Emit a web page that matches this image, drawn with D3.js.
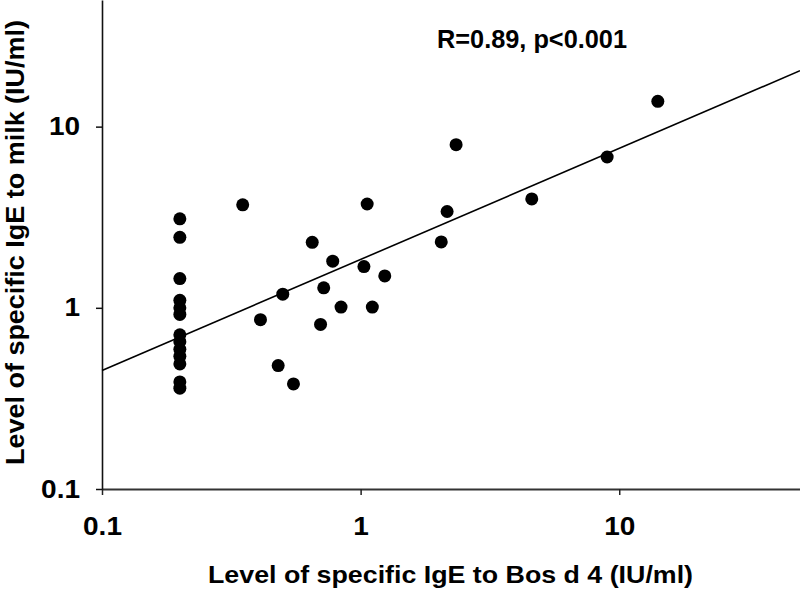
<!DOCTYPE html>
<html>
<head>
<meta charset="utf-8">
<script src="https://cdnjs.cloudflare.com/ajax/libs/d3/7.8.5/d3.min.js"></script>
<style>
  body { margin: 0; background: #fff; }
  text { font-family: "Liberation Sans", Arial, sans-serif; font-weight: bold; fill: #000; }
</style>
</head>
<body>
<div class="scatter"></div>
<script>
// values
var bosD4 = [0.2, 0.2, 0.2, 0.2, 0.2, 0.2, 0.2, 0.2, 0.2, 0.2, 0.2, 0.2, 0.2,
    0.35, 0.65, 0.50, 0.41, 0.48, 0.55, 0.78, 1.03, 1.24, 0.72,
    0.84, 1.11, 0.70, 1.06, 2.05, 2.16, 2.34, 4.59, 8.98, 14.1];
var milk = [3.1, 2.45, 1.45, 1.1, 1.0, 0.92, 0.71, 0.65, 0.59, 0.54, 0.49, 0.39, 0.36,
    3.7, 2.3, 1.19, 0.86, 0.48, 0.38, 1.81, 1.69, 1.5, 1.29,
    1.01, 1.01, 0.81, 3.74, 2.31, 3.4, 7.95, 3.99, 6.8, 13.8];

var tickValues = [0.1, 1, 10];
var tickLabels = ["0.1", "1", "10"];

// log-log regression line: log10(y) = a + b*log10(x)
var fitIntercept = 0.267;
var fitSlope = 0.613;
var fitRange = [0.1, 50];

var statText = "R=0.89, p<0.001";
var xTitle = "Level of specific IgE to Bos d 4 (IU/ml)";
var yTitle = "Level of specific IgE to milk (IU/ml)";

// svg wrapper dimensions
var svgWidth = 800;
var svgHeight = 589;

var margin = { top: 0, right: 0, bottom: 100, left: 102 };

var width = svgWidth - margin.left - margin.right;
var height = svgHeight - margin.top - margin.bottom;

var svg = d3.select(".scatter")
    .append("svg")
    .attr("width", svgWidth)
    .attr("height", svgHeight);

var chartGroup = svg.append("g")
    .attr("transform", `translate(${margin.left}, ${margin.top})`);

var xScale = d3.scaleLog().domain([0.1, 50]).range([0, width]);
var yScale = d3.scaleLog().domain([0.1, 50]).range([height, 0]);

var bottomAxis = d3.axisBottom(xScale)
    .tickValues(tickValues)
    .tickFormat((d, i) => tickLabels[i])
    .tickSizeInner(6)
    .tickSizeOuter(0)
    .tickPadding(22);

var leftAxis = d3.axisLeft(yScale)
    .tickValues(tickValues)
    .tickFormat((d, i) => tickLabels[i])
    .tickSizeInner(6)
    .tickSizeOuter(0)
    .tickPadding(16);

var xAxis = chartGroup.append("g")
    .attr("transform", `translate(0, ${height})`)
    .call(bottomAxis);

var yAxis = chartGroup.append("g")
    .call(leftAxis);

xAxis.select(".domain").attr("stroke", "#333").attr("stroke-width", 2);
xAxis.selectAll(".tick line").attr("stroke", "#222").attr("stroke-width", 1.5);
yAxis.select(".domain").attr("stroke", "#111").attr("stroke-width", 1.6);
yAxis.selectAll(".tick line").attr("stroke", "#111").attr("stroke-width", 1.5);

xAxis.selectAll(".tick text")
    .attr("font-size", 25)
    .style("font-family", "'Liberation Sans', Arial, sans-serif")
    .style("font-weight", "bold")
    .style("transform-box", "fill-box")
    .style("transform-origin", "center")
    .style("transform", "scaleX(1.12)");

yAxis.selectAll(".tick text")
    .attr("font-size", 25)
    .style("font-family", "'Liberation Sans', Arial, sans-serif")
    .style("font-weight", "bold")
    .style("transform-box", "fill-box")
    .style("transform-origin", "right center")
    .style("transform", "scaleX(1.12)");

// regression line
var fitLine = d3.line()
    .x(d => xScale(d))
    .y(d => yScale(Math.pow(10, fitIntercept + fitSlope * Math.log10(d))));

chartGroup.append("path")
    .datum(fitRange)
    .attr("d", fitLine)
    .attr("fill", "none")
    .attr("stroke", "#000")
    .attr("stroke-width", 1.6);

// points
var points = bosD4.map((d, i) => ({ x: d, y: milk[i] }));

chartGroup.selectAll("circle")
    .data(points)
    .enter()
    .append("circle")
    .attr("cx", d => xScale(d.x))
    .attr("cy", d => yScale(d.y))
    .attr("r", 6.5)
    .attr("fill", "#000");

// correlation label
svg.append("text")
    .attr("x", 437)
    .attr("y", 47.5)
    .attr("font-size", 26)
    .attr("textLength", 190)
    .attr("lengthAdjust", "spacingAndGlyphs")
    .text(statText);

// axis titles
svg.append("text")
    .attr("x", 208)
    .attr("y", 583)
    .attr("font-size", 23)
    .attr("textLength", 485)
    .attr("lengthAdjust", "spacingAndGlyphs")
    .text(xTitle);

svg.append("text")
    .attr("transform", "rotate(-90)")
    .attr("x", -465)
    .attr("y", 23.5)
    .attr("font-size", 26)
    .attr("textLength", 445)
    .attr("lengthAdjust", "spacingAndGlyphs")
    .text(yTitle);
</script>
</body>
</html>
